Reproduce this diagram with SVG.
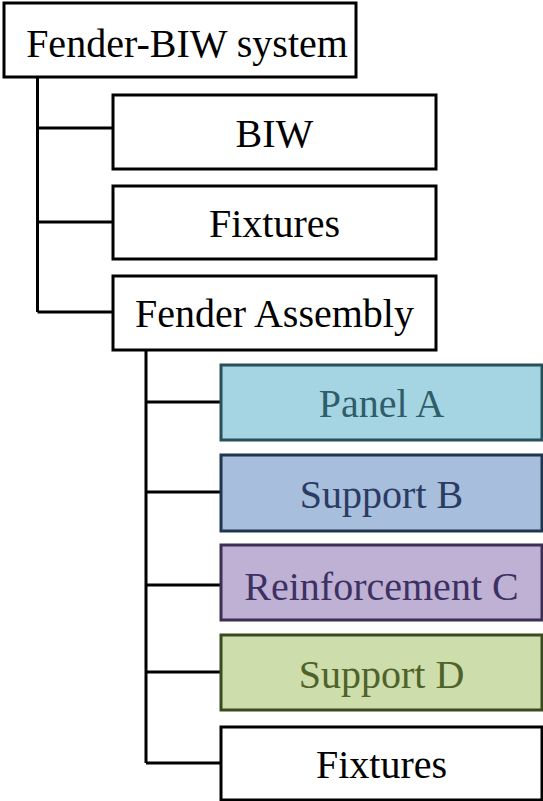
<svg xmlns="http://www.w3.org/2000/svg" width="543" height="801" viewBox="0 0 543 801">
<style>
.box{stroke:#000;stroke-width:3;fill:#fff}
.t{font-family:'Liberation Serif',Tinos,'Times New Roman','DejaVu Serif',serif;font-size:40px;fill:#000;text-anchor:middle}
.c{fill:none;stroke:#000;stroke-width:3}
</style>
<rect width="543" height="801" fill="#fff"/>
<g id="connectors">
<path class="c" d="M37.5 77V312M37.5 128H113M37.5 222H113M37.5 312H113"/>
<path class="c" d="M146 350V763M146 402H221M146 492H221M146 585H221M146 672H221M146 763H221"/>
</g>
<g id="root"><rect class="box" x="4" y="3" width="352" height="74"/><text class="t" x="187" y="57" font-family="Liberation Serif, serif">Fender-BIW system</text></g>
<g id="biw"><rect class="box" x="113" y="95" width="323" height="74"/><text class="t" x="274.5" y="147" font-family="Liberation Serif, serif">BIW</text></g>
<g id="fixtures1"><rect class="box" x="113" y="186" width="323" height="73"/><text class="t" x="274.5" y="237" font-family="Liberation Serif, serif">Fixtures</text></g>
<g id="fender-assembly"><rect class="box" x="113" y="276" width="323" height="74"/><text class="t" x="274.5" y="327" font-family="Liberation Serif, serif">Fender Assembly</text></g>
<g id="panel-a"><rect x="221" y="365" width="321" height="75" fill="#a5d5e2" stroke="#27505a" stroke-width="3"/><text class="t" x="381.5" y="417" font-family="Liberation Serif, serif" fill="#2f5d69" style="fill:#2f5d69">Panel A</text></g>
<g id="support-b"><rect x="221" y="455" width="321" height="76" fill="#a7bfdd" stroke="#1f3550" stroke-width="3"/><text class="t" x="381.5" y="508" font-family="Liberation Serif, serif" style="fill:#2b3b62">Support B</text></g>
<g id="reinforcement-c"><rect x="221" y="545" width="321" height="75" fill="#bfb1d3" stroke="#3b2f55" stroke-width="3"/><text class="t" x="381.5" y="600" font-family="Liberation Serif, serif" style="fill:#3d3163">Reinforcement C</text></g>
<g id="support-d"><rect x="221" y="635" width="321" height="75" fill="#cdddac" stroke="#3a4a1e" stroke-width="3"/><text class="t" x="381.5" y="688" font-family="Liberation Serif, serif" style="fill:#4f6229">Support D</text></g>
<g id="fixtures2"><rect class="box" x="221" y="727" width="321" height="73"/><text class="t" x="381.5" y="778" font-family="Liberation Serif, serif">Fixtures</text></g>
</svg>
